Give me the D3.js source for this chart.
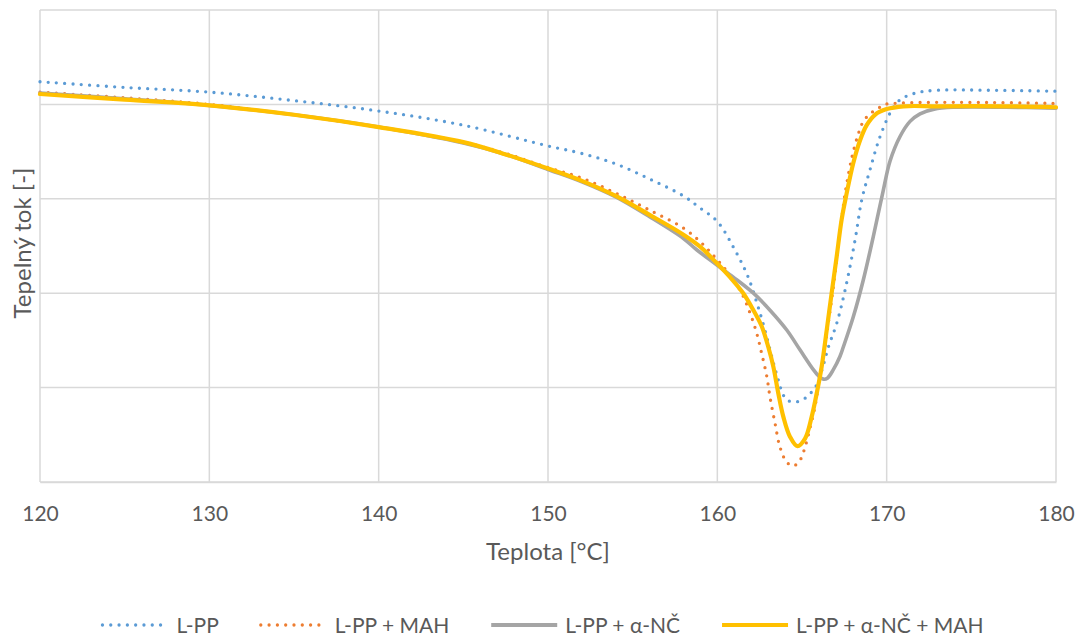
<!DOCTYPE html>
<html>
<head>
<meta charset="utf-8">
<script src="https://cdn.jsdelivr.net/npm/d3@7/dist/d3.min.js"></script>
<style>
  html, body { margin: 0; padding: 0; background: #fff; }
  svg { display: block; font-family: Lato, "Open Sans", sans-serif; }
</style>
</head>
<body>
<svg id="chart" width="1085" height="637"></svg>
<script>
// DSC melting curves: temperature [°C] vs heat flow (arbitrary units)
const xTicks = [120, 130, 140, 150, 160, 170, 180];
const yGrid = [0, 1, 2, 3, 4, 5];

const seriesNames = ["L-PP", "L-PP + MAH", "L-PP + α-NČ", "L-PP + α-NČ + MAH"];

const lppT = [120,125,130,135,140,145,150,152,154,156,158,159,160,161,161.8,162.4,162.7,163.0,163.3,163.6,163.9,164.2,164.7,165.2,165.6,165.9,166.2,166.56,167.05,167.54,168.13,168.53,169.02,169.61,170.3,170.8,171.7,173,176,180];
const lppV = [4.24,4.18,4.13,4.04,3.93,3.78,3.56,3.48,3.37,3.21,3.03,2.90,2.76,2.47,2.18,1.86,1.68,1.48,1.27,1.08,0.92,0.86,0.85,0.89,0.96,1.04,1.20,1.43,1.68,2.03,2.56,2.99,3.31,3.66,3.94,4.05,4.12,4.15,4.15,4.14];

const mahT = [120,125,130,135,140,145,147.5,150,152,154,156,158,159.08,159.76,160.35,160.94,161.44,161.93,162.32,162.62,162.92,163.11,163.41,163.7,164.1,164.49,164.88,165.18,165.47,165.77,165.96,166.16,166.36,166.55,166.75,166.95,167.14,167.34,167.54,167.84,168.03,168.33,168.62,169.02,169.51,169.9,170.4,172,176,180];
const mahV = [4.13,4.07,4.0,3.89,3.76,3.60,3.48,3.33,3.22,3.06,2.88,2.69,2.53,2.40,2.28,2.14,2.0,1.79,1.58,1.36,1.12,0.90,0.62,0.37,0.21,0.17,0.23,0.37,0.57,0.80,1.01,1.22,1.43,1.68,1.93,2.21,2.49,2.78,3.05,3.35,3.50,3.69,3.82,3.90,3.96,4.0,4.01,4.02,4.02,4.01];

const ncT = [120,125,130,135,140,145,147.5,150,152,154,156,158,158.78,159.96,160.94,162.13,163.11,164.1,164.88,165.67,166.0,166.26,166.5,166.85,167.24,167.44,168.03,168.62,169.21,169.8,170.2,170.79,171.38,171.97,172.8,174,177,180];
const ncV = [4.12,4.06,3.99,3.89,3.76,3.59,3.47,3.31,3.18,3.02,2.81,2.58,2.46,2.30,2.17,2.0,1.82,1.61,1.40,1.19,1.12,1.09,1.10,1.19,1.33,1.43,1.75,2.14,2.60,3.09,3.40,3.66,3.82,3.90,3.95,3.97,3.97,3.96];

const ncMahT = [120,125,130,135,140,145,147.5,150,152,154,156,158,159,159.96,160.75,161.53,162.13,162.62,163.01,163.31,163.6,163.9,164.29,164.73,165.18,165.57,165.87,166.16,166.46,166.75,167.05,167.34,167.64,168.03,168.43,168.82,169.31,170.0,171,173,177,180];
const ncMahV = [4.11,4.05,3.99,3.89,3.76,3.60,3.47,3.32,3.19,3.03,2.83,2.62,2.49,2.32,2.17,2.0,1.82,1.65,1.43,1.22,0.94,0.69,0.48,0.38,0.46,0.69,0.94,1.22,1.61,2.0,2.39,2.78,3.06,3.38,3.62,3.78,3.89,3.95,3.98,3.98,3.98,3.97];

const series = [
  { name: seriesNames[0], t: lppT, v: lppV, color: "#5B9BD5", width: 3.3, dash: "0 8.3", cap: "round" },
  { name: seriesNames[1], t: mahT, v: mahV, color: "#ED7D31", width: 3.3, dash: "0 8.3", cap: "round" },
  { name: seriesNames[2], t: ncT, v: ncV, color: "#A5A5A5", width: 3.6, dash: null, cap: "round" },
  { name: seriesNames[3], t: ncMahT, v: ncMahV, color: "#FFC000", width: 4.2, dash: null, cap: "round" }
];

const svg = d3.select("#chart");
const margin = { left: 40, right: 1056, top: 10, bottom: 482 };

const x = d3.scaleLinear().domain([120, 180]).range([margin.left, margin.right]);
const y = d3.scaleLinear().domain([0, 5]).range([margin.bottom, margin.top]);

const gridColor = "#D9D9D9";
const textColor = "#595959";

// gridlines
const grid = svg.append("g");
grid.selectAll("line.h").data(yGrid).join("line")
  .attr("x1", margin.left).attr("x2", margin.right)
  .attr("y1", d => y(d)).attr("y2", d => y(d))
  .attr("stroke", gridColor).attr("stroke-width", 1.5);
grid.selectAll("line.v").data(xTicks).join("line")
  .attr("x1", d => x(d)).attr("x2", d => x(d))
  .attr("y1", margin.top).attr("y2", margin.bottom)
  .attr("stroke", gridColor).attr("stroke-width", 1.5);

// x axis labels
const xAxis = d3.axisBottom(x).tickValues(xTicks).tickSize(0).tickPadding(0).tickFormat(d3.format("d"));
const gx = svg.append("g").attr("transform", `translate(0,${margin.bottom})`).call(xAxis);
gx.select(".domain").attr("stroke", gridColor).attr("stroke-width", 1.5);
gx.selectAll("text")
  .attr("dy", null).attr("y", 39)
  .attr("fill", textColor).style("font-size", "21px")
  .style("font-family", "Lato, 'Open Sans', sans-serif");

// axis titles
svg.append("text")
  .attr("x", x(150)).attr("y", 560)
  .attr("text-anchor", "middle").attr("fill", textColor)
  .style("font-size", "24px").text("Teplota [°C]");

svg.append("text")
  .attr("transform", `translate(31,243) rotate(-90)`)
  .attr("text-anchor", "middle").attr("fill", textColor)
  .style("font-size", "24px").text("Tepelný tok [-]");

// curves
const line = d3.line()
  .x(d => x(d[0]))
  .y(d => y(d[1]))
  .curve(d3.curveCatmullRom.alpha(0.5));

svg.append("g").selectAll("path").data(series).join("path")
  .attr("d", s => line(s.t.map((t, i) => [t, s.v[i]])))
  .attr("fill", "none")
  .attr("stroke", s => s.color)
  .attr("stroke-width", s => s.width)
  .attr("stroke-dasharray", s => s.dash)
  .attr("stroke-linecap", s => s.cap)
  .attr("stroke-linejoin", "round");

// legend
const legend = svg.append("g");
const sampleLen = 66, sampleGap = 8, itemGap = 42, legendY = 625;
const items = legend.selectAll("g").data(series).join("g");
items.append("line")
  .attr("x1", 0).attr("x2", sampleLen)
  .attr("y1", 0).attr("y2", 0)
  .attr("stroke", s => s.color)
  .attr("stroke-width", s => s.dash ? 3.3 : 4)
  .attr("stroke-dasharray", s => s.dash)
  .attr("stroke-linecap", s => s.dash ? "round" : "butt");
items.append("text")
  .attr("x", sampleLen + sampleGap).attr("y", 7.5)
  .attr("fill", textColor).style("font-size", "21px")
  .text(s => s.name);

let offset = 0;
const widths = [];
items.each(function() {
  widths.push(this.getBBox().width);
});
const total = d3.sum(widths) + itemGap * (widths.length - 1);
offset = 543 - total / 2;
items.attr("transform", (d, i) => {
  const tx = offset;
  offset += widths[i] + itemGap;
  return `translate(${tx},${legendY})`;
});
</script>
</body>
</html>
